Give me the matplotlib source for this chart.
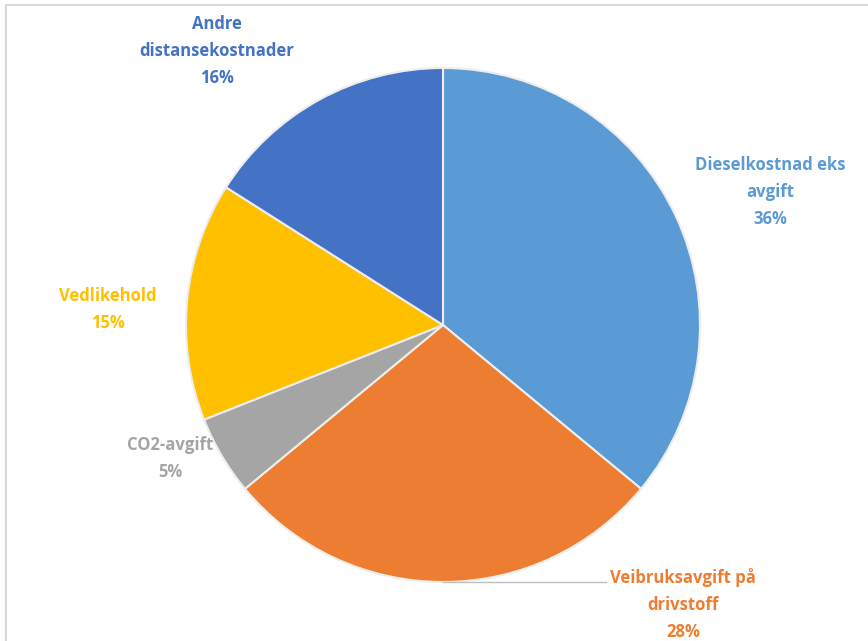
import matplotlib
matplotlib.use('Agg')
import matplotlib.pyplot as plt
from matplotlib.patches import Rectangle

# kostnadsandeler, med klokka fra toppen
labels = ['Dieselkostnad eks\navgift', 'Veibruksavgift på\ndrivstoff', 'CO2-avgift',
          'Vedlikehold', 'Andre\ndistansekostnader']
shares = [36, 28, 5, 15, 16]
colors = ['#5B9BD5', '#ED7D31', '#A5A5A5', '#FFC000', '#4472C4']
text_colors = ['#5B9BD5', '#ED7D31', '#A5A5A5', '#FFC000', '#4472C4']
# plassering av etikettene (data-koordinater, radius = 1)
label_pos = [(1.272, 0.518), (0.934, -1.086), (-1.062, -0.521), (-1.303, 0.062), (-0.879, 1.066)]

W, H = 868, 641
fig = plt.figure(figsize=(W/100, H/100), dpi=100)
fig.patches.append(Rectangle((6/W, -0.02), 1, 1.02 - 5/H, transform=fig.transFigure,
                             fill=False, edgecolor='#D9D9D9', linewidth=1.5))

cx, cy, r = 443, 325, 257
ax = fig.add_axes([(cx - r)/W, (H - cy - r)/H, 2*r/W, 2*r/H])
ax.pie(shares, colors=colors, startangle=90, counterclock=False, radius=1,
       wedgeprops=dict(edgecolor='#EDEDED', linewidth=1.5))
ax.set_xlim(-1, 1)
ax.set_ylim(-1, 1)
ax.set_aspect('equal')
ax.axis('off')

for lab, s, c, (x, y) in zip(labels, shares, text_colors, label_pos):
    ax.text(x, y, f'{lab}\n{s}%', color=c, ha='center', va='center',
            fontsize=12, fontweight='bold', family='Open Sans',
            linespacing=1.65, clip_on=False)

# ledelinje til veibruksavgift
x0, y0 = label_pos[1]
ax.plot([0.0, x0 - 0.3], [-1.0, -1.0], color='#BFBFBF', linewidth=1, clip_on=False)

fig.savefig('out.png', dpi=100)
